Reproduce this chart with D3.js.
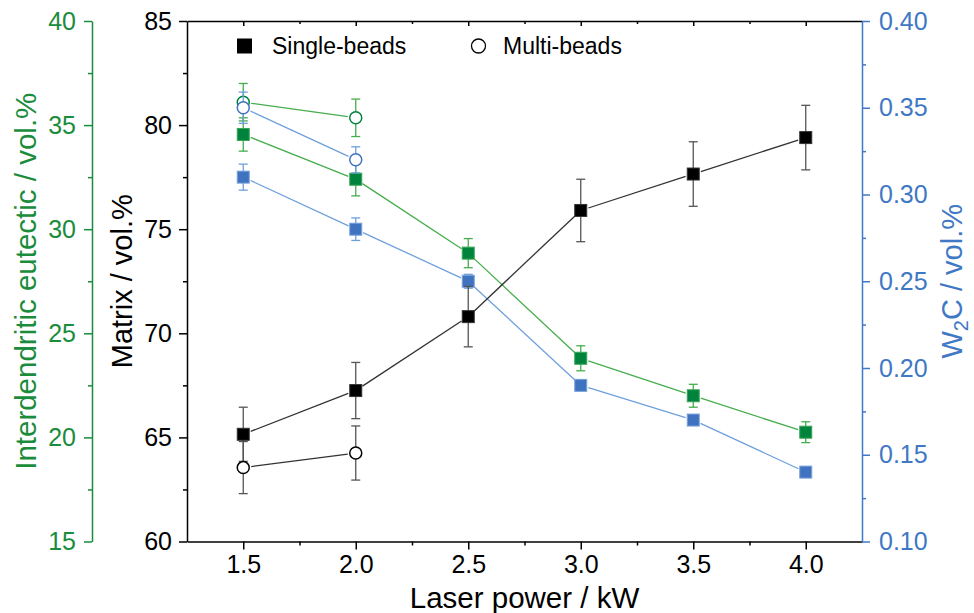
<!DOCTYPE html>
<html>
<head>
<meta charset="utf-8">
<script src="https://cdn.jsdelivr.net/npm/d3@7"></script>
<style>
  body { margin: 0; background: #fff; }
  svg text { font-family: "Liberation Sans", Arial, sans-serif; }
</style>
</head>
<body>
<script>
// data
var power = [1.5, 2.0, 2.5, 3.0, 3.5, 4.0];
var powerMulti = [1.5, 2.0];

var matrixSingle = [65.15, 67.25, 70.8, 75.9, 77.65, 79.4];
var matrixSingleErr = [1.3, 1.35, 1.45, 1.5, 1.55, 1.55];
var matrixMulti = [63.55, 64.25];
var matrixMultiErr = [1.25, 1.3];

var eutecticSingle = [34.55, 32.4, 28.85, 23.8, 22.0, 20.25];
var eutecticSingleErr = [0.8, 0.8, 0.7, 0.6, 0.55, 0.5];
var eutecticMulti = [36.1, 35.35];
var eutecticMultiErr = [0.9, 0.9];

var w2cSingle = [0.310, 0.280, 0.250, 0.190, 0.170, 0.140];
var w2cSingleErr = [0.0075, 0.0065, 0.004, 0.003, 0.003, 0.002];
var w2cMulti = [0.350, 0.320];
var w2cMultiErr = [0.009, 0.0075];

var xTicks = [1.5, 2.0, 2.5, 3.0, 3.5, 4.0];
var xMinor = [1.75, 2.25, 2.75, 3.25, 3.75];
var matrixTicks = [60, 65, 70, 75, 80, 85];
var matrixMinor = [62.5, 67.5, 72.5, 77.5, 82.5];
var eutecticTicks = [15, 20, 25, 30, 35, 40];
var eutecticMinor = [17.5, 22.5, 27.5, 32.5, 37.5];
var w2cTicks = [0.10, 0.15, 0.20, 0.25, 0.30, 0.35, 0.40];
var w2cMinor = [0.125, 0.175, 0.225, 0.275, 0.325, 0.375];

(function () {
var W = 974, H = 613;
var pL = 187, pR = 862, pT = 21, pB = 541.5;
var greenAxisX = 92;

var GREEN = "#1a8c3c", GREEN_MARK = "#00843d", GREEN_LINE = "#45ad4c";
var BLUE = "#3f78c4", BLUE_MARK = "#3f72bf", BLUE_LINE = "#6ea0dc";
var BLACK_LINE = "#333";

var svg = d3.select("body").append("svg")
  .attr("width", W)
  .attr("height", H);

var x = d3.scaleLinear().domain([1.25, 4.25]).range([pL, pR]);
var yM = d3.scaleLinear().domain([60, 85]).range([pB, pT]);
var yE = d3.scaleLinear().domain([15, 40]).range([pB, pT]);
var yW = d3.scaleLinear().domain([0.10, 0.40]).range([pB, pT]);

function styleAxis(g, color) {
  g.attr("font-size", 25).attr("font-family", null);
  g.select(".domain").attr("stroke", color).attr("stroke-width", 1.5);
  g.selectAll(".tick line").attr("stroke", color).attr("stroke-width", 1.5);
  g.selectAll(".tick text").attr("fill", color);
}
function minorAxis(g, color) {
  g.select(".domain").remove();
  g.selectAll("line").attr("stroke", color).attr("stroke-width", 1.5);
}

// bottom axis
var gx = svg.append("g").attr("transform", "translate(0," + pB + ")")
  .call(d3.axisBottom(x).tickValues(xTicks).tickSize(8).tickSizeOuter(0).tickPadding(6)
    .tickFormat(d3.format(".1f")));
styleAxis(gx, "#000");
svg.append("g").attr("transform", "translate(0," + pB + ")")
  .call(d3.axisBottom(x).tickValues(xMinor).tickSize(4).tickFormat(""))
  .call(minorAxis, "#000");

// top axis, ticks inward
var gt = svg.append("g").attr("transform", "translate(0," + pT + ")")
  .call(d3.axisBottom(x).tickValues(xTicks).tickSize(5).tickSizeOuter(0).tickFormat(""));
styleAxis(gt, "#000");
svg.append("g").attr("transform", "translate(0," + pT + ")")
  .call(d3.axisBottom(x).tickValues(xMinor).tickSize(3).tickFormat(""))
  .call(minorAxis, "#000");

// left matrix axis
var gm = svg.append("g").attr("transform", "translate(" + pL + ",0)")
  .call(d3.axisLeft(yM).tickValues(matrixTicks).tickSize(8).tickSizeOuter(0).tickPadding(7));
styleAxis(gm, "#000");
svg.append("g").attr("transform", "translate(" + pL + ",0)")
  .call(d3.axisLeft(yM).tickValues(matrixMinor).tickSize(4).tickFormat(""))
  .call(minorAxis, "#000");

// green eutectic axis
var ge = svg.append("g").attr("transform", "translate(" + greenAxisX + ",0)")
  .call(d3.axisLeft(yE).tickValues(eutecticTicks).tickSize(8).tickSizeOuter(0).tickPadding(8));
styleAxis(ge, GREEN);
svg.append("g").attr("transform", "translate(" + greenAxisX + ",0)")
  .call(d3.axisLeft(yE).tickValues(eutecticMinor).tickSize(4).tickFormat(""))
  .call(minorAxis, GREEN);

// right W2C axis
var gw = svg.append("g").attr("transform", "translate(" + pR + ",0)")
  .call(d3.axisRight(yW).tickValues(w2cTicks).tickSize(8).tickSizeOuter(0).tickPadding(9)
    .tickFormat(d3.format(".2f")));
styleAxis(gw, BLUE);
svg.append("g").attr("transform", "translate(" + pR + ",0)")
  .call(d3.axisRight(yW).tickValues(w2cMinor).tickSize(4).tickFormat(""))
  .call(minorAxis, BLUE);

// axis titles
svg.append("text").attr("x", (pL + pR) / 2).attr("y", 608)
  .attr("text-anchor", "middle").attr("font-size", 29.5).text("Laser power / kW");

svg.append("text").attr("transform", "translate(132," + (pT + pB) / 2 + ") rotate(-90)")
  .attr("text-anchor", "middle").attr("font-size", 29).text("Matrix / vol.%");

svg.append("text").attr("transform", "translate(36," + (pT + pB) / 2 + ") rotate(-90)")
  .attr("text-anchor", "middle").attr("font-size", 29.5).attr("fill", GREEN)
  .text("Interdendritic eutectic / vol.%");

var wt = svg.append("text").attr("transform", "translate(962," + (pT + pB) / 2 + ") rotate(-90)")
  .attr("text-anchor", "middle").attr("font-size", 29).attr("fill", BLUE);
wt.append("tspan").text("W");
wt.append("tspan").attr("font-size", 20).attr("dy", 6).text("2");
wt.append("tspan").attr("dy", -6).text("C / vol.%");

// series drawing
function drawSeries(xs, vals, errs, yScale, opt) {
  var pts = xs.map(function (d, i) {
    return { x: x(d), y: yScale(vals[i]), lo: yScale(vals[i] - errs[i]), hi: yScale(vals[i] + errs[i]) };
  });
  var gap = 8;
  var g = svg.append("g");
  for (var i = 0; i < pts.length - 1; i++) {
    var a = pts[i], b = pts[i + 1];
    var dx = b.x - a.x, dy = b.y - a.y, len = Math.sqrt(dx * dx + dy * dy);
    var ux = dx / len, uy = dy / len;
    g.append("line")
      .attr("x1", a.x + ux * gap).attr("y1", a.y + uy * gap)
      .attr("x2", b.x - ux * gap).attr("y2", b.y - uy * gap)
      .attr("stroke", opt.line).attr("stroke-width", 1.3);
  }
  var cap = 4.5;
  pts.forEach(function (p) {
    g.append("line").attr("x1", p.x).attr("x2", p.x).attr("y1", p.hi).attr("y2", p.lo)
      .attr("stroke", opt.err).attr("stroke-width", 1.3);
    g.append("line").attr("x1", p.x - cap).attr("x2", p.x + cap).attr("y1", p.hi).attr("y2", p.hi)
      .attr("stroke", opt.err).attr("stroke-width", 1.3);
    g.append("line").attr("x1", p.x - cap).attr("x2", p.x + cap).attr("y1", p.lo).attr("y2", p.lo)
      .attr("stroke", opt.err).attr("stroke-width", 1.3);
  });
  pts.forEach(function (p) {
    if (opt.shape === "square") {
      g.append("rect").attr("x", p.x - 6).attr("y", p.y - 6).attr("width", 12).attr("height", 12)
        .attr("fill", opt.mark).attr("stroke", opt.markStroke).attr("stroke-width", 1);
    } else {
      g.append("circle").attr("cx", p.x).attr("cy", p.y).attr("r", 6)
        .attr("fill", "#fff").attr("stroke", opt.mark).attr("stroke-width", 1.5);
    }
  });
}

drawSeries(power, eutecticSingle, eutecticSingleErr, yE,
  { line: GREEN_LINE, err: GREEN_LINE, mark: GREEN_MARK, markStroke: "#3aa556", shape: "square" });
drawSeries(powerMulti, eutecticMulti, eutecticMultiErr, yE,
  { line: GREEN_LINE, err: GREEN_LINE, mark: GREEN_MARK, shape: "circle" });
drawSeries(power, w2cSingle, w2cSingleErr, yW,
  { line: BLUE_LINE, err: BLUE_LINE, mark: BLUE_MARK, markStroke: "#7aa3dc", shape: "square" });
drawSeries(powerMulti, w2cMulti, w2cMultiErr, yW,
  { line: BLUE_LINE, err: BLUE_LINE, mark: BLUE_MARK, shape: "circle" });
drawSeries(power, matrixSingle, matrixSingleErr, yM,
  { line: BLACK_LINE, err: "#555", mark: "#000", markStroke: "#333", shape: "square" });
drawSeries(powerMulti, matrixMulti, matrixMultiErr, yM,
  { line: BLACK_LINE, err: "#555", mark: "#000", shape: "circle" });

// legend
var lg = svg.append("g");
lg.append("rect").attr("x", 237).attr("y", 38.5).attr("width", 15).attr("height", 15).attr("fill", "#000");
lg.append("text").attr("x", 272).attr("y", 54).attr("font-size", 23).text("Single-beads");
lg.append("circle").attr("cx", 478.5).attr("cy", 46).attr("r", 7)
  .attr("fill", "#fff").attr("stroke", "#000").attr("stroke-width", 1.3);
lg.append("text").attr("x", 503).attr("y", 54).attr("font-size", 23).text("Multi-beads");
})();
</script>
</body>
</html>
